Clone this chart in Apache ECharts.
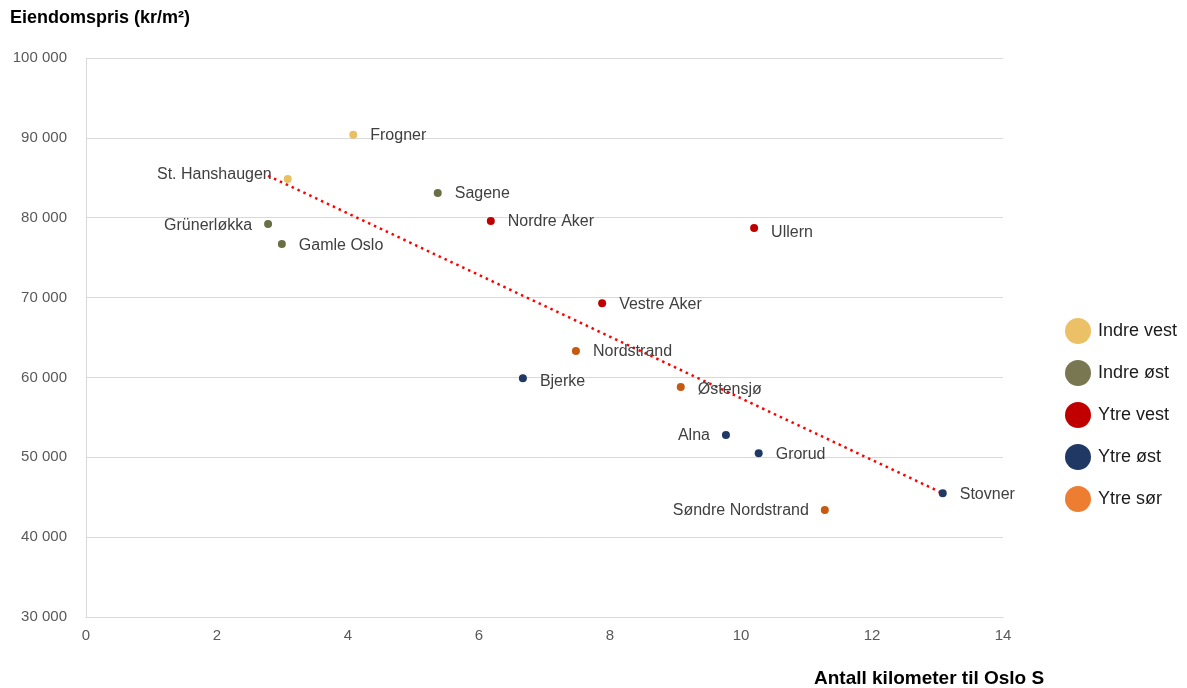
<!DOCTYPE html>
<html>
<head>
<meta charset="utf-8">
<script src="https://cdn.jsdelivr.net/npm/echarts@6/dist/echarts.min.js"></script>
<style>
  html, body { margin: 0; padding: 0; background: #fff; }
  #chart { width: 1187px; height: 688px; }
</style>
</head>
<body>
<div id="chart"></div>
<script>
// Oslo districts: distance to Oslo S (km) and property price (kr/m²)
const regions = ['Indre vest', 'Indre øst', 'Ytre vest', 'Ytre øst', 'Ytre sør'];
const districts = ['Frogner', 'St. Hanshaugen', 'Sagene', 'Grünerløkka', 'Gamle Oslo',
  'Nordre Aker', 'Ullern', 'Vestre Aker', 'Nordstrand', 'Bjerke', 'Østensjø',
  'Alna', 'Grorud', 'Søndre Nordstrand', 'Stovner'];
const districtRegion = ['Indre vest', 'Indre vest', 'Indre øst', 'Indre øst', 'Indre øst',
  'Ytre vest', 'Ytre vest', 'Ytre vest', 'Ytre sør', 'Ytre øst', 'Ytre sør',
  'Ytre øst', 'Ytre øst', 'Ytre sør', 'Ytre øst'];
const kmToOsloS = [4.08, 3.08, 5.37, 2.78, 2.99, 6.18, 10.2, 7.88, 7.48, 6.67, 9.08, 9.77, 10.27, 11.28, 13.08];
const pricePerM2 = [90400, 84850, 83100, 79200, 76700, 79600, 78700, 69300, 63300, 59900, 58800, 52800, 50500, 43400, 45500];
// Linear trend line, start and end
const trendKm = [2.78, 13.08];
const trendPrice = [85250, 45500];
const yTicks = [30000, 100000, 10000]; // min, max, step
const xTicks = [0, 14, 2];

const FONT = '"Liberation Sans", Arial, sans-serif';

const pointColors = {
  'Indre vest': '#E9BF62', 'Indre øst': '#6B6F45', 'Ytre vest': '#C00000',
  'Ytre øst': '#1F3864', 'Ytre sør': '#C55A11'
};
const legendColors = {
  'Indre vest': '#EBC066', 'Indre øst': '#787752', 'Ytre vest': '#C00000',
  'Ytre øst': '#203864', 'Ytre sør': '#ED7D31'
};
const leftLabels = new Set(['St. Hanshaugen', 'Grünerløkka', 'Alna', 'Søndre Nordstrand']);
const labelNudge = { 'St. Hanshaugen': [0, -4], 'Ullern': [0, 4], 'Bjerke': [0, 3], 'Østensjø': [0, 3], 'Gamle Oslo': [0, 2] };

const fmt = v => String(v).replace(/\B(?=(\d{3})+(?!\d))/g, ' ');

const pointSeries = regions.map(r => ({
  name: r,
  type: 'scatter',
  symbol: 'circle',
  symbolSize: 8,
  itemStyle: { color: pointColors[r], opacity: 1 },
  z: 3,
  data: districts.map((d, i) => ({ d, i })).filter(o => districtRegion[o.i] === r).map(o => ({
    name: o.d,
    value: [kmToOsloS[o.i], pricePerM2[o.i]],
    label: {
      show: true,
      position: leftLabels.has(o.d) ? 'left' : 'right',
      distance: leftLabels.has(o.d) ? 12 : 13,
      offset: labelNudge[o.d] || [0, 1],
      formatter: '{b}',
      color: '#404040',
      fontSize: 16,
      fontFamily: FONT
    }
  })),
  emphasis: { disabled: true }
}));

const trendSeries = {
  name: 'Trend',
  type: 'line',
  data: trendKm.map((k, i) => [k, trendPrice[i]]),
  showSymbol: false,
  symbol: 'none',
  lineStyle: { color: '#FF0000', width: 2.5, type: [2.5, 4] },
  z: 2,
  silent: true
};

const chart = echarts.init(document.getElementById('chart'));
chart.setOption({
  animation: false,
  backgroundColor: '#ffffff',
  textStyle: { fontFamily: FONT },
  grid: { left: 86, right: 184, top: 58, bottom: 71, containLabel: false },
  xAxis: {
    type: 'value',
    min: xTicks[0], max: xTicks[1], interval: xTicks[2],
    axisLine: { show: true, lineStyle: { color: '#D9D9D9', width: 1 } },
    axisTick: { show: false },
    splitLine: { show: false },
    axisLabel: { color: '#595959', fontSize: 15, margin: 11 }
  },
  yAxis: {
    type: 'value',
    min: yTicks[0], max: yTicks[1], interval: yTicks[2],
    axisLine: { show: true, lineStyle: { color: '#D9D9D9', width: 1 } },
    axisTick: { show: false },
    splitLine: { show: true, lineStyle: { color: '#D9D9D9', width: 1 } },
    axisLabel: { color: '#595959', fontSize: 15, margin: 19, formatter: fmt }
  },
  legend: {
    orient: 'vertical',
    left: 1060,
    top: 313,
    itemWidth: 26,
    itemHeight: 26,
    itemGap: 16,
    icon: 'circle',
    selectedMode: false,
    textStyle: { color: '#1a1a1a', fontSize: 18, padding: [0, 0, 0, 2] },
    data: regions.map(r => ({ name: r, itemStyle: { color: legendColors[r] } }))
  },
  graphic: [
    {
      type: 'text', left: 10, top: 9,
      style: { text: 'Eiendomspris (kr/m²)', fill: '#000', font: 'bold 18px ' + FONT }
    },
    {
      type: 'text', left: 814, top: 669,
      style: { text: 'Antall kilometer til Oslo S', fill: '#000', font: 'bold 19px ' + FONT }
    }
  ],
  series: [...pointSeries, trendSeries]
});
</script>
</body>
</html>
